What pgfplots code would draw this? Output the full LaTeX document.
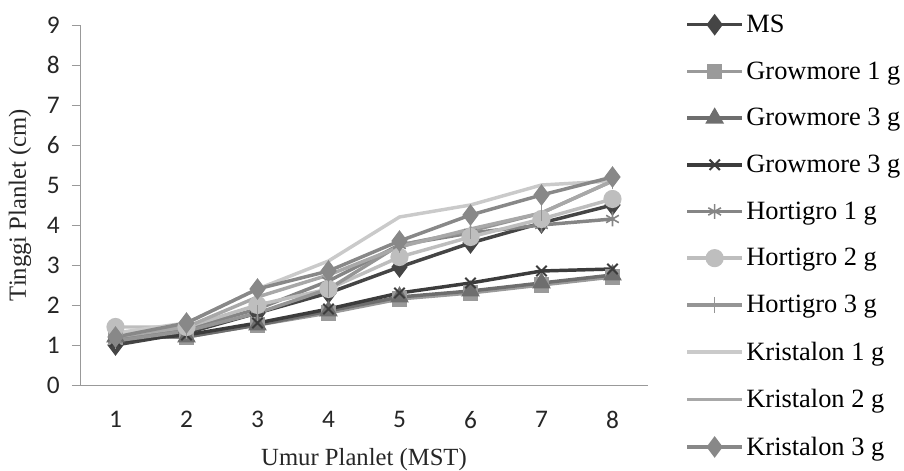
\documentclass[border=0pt]{standalone}
\usepackage{fontspec}
\setmainfont{Liberation Serif}
\newfontfamily\tickfont{Carlito}
\usepackage{pgfplots}
\pgfplotsset{compat=1.18}
\definecolor{cMS}{HTML}{454545}
\definecolor{cGa}{HTML}{9A9A9A}
\definecolor{cGb}{HTML}{6E6E6E}
\definecolor{cGc}{HTML}{3C3C3C}
\definecolor{cHa}{HTML}{858585}
\definecolor{cHb}{HTML}{BEBEBE}
\definecolor{cHc}{HTML}{959595}
\definecolor{cKa}{HTML}{CACACA}
\definecolor{cKb}{HTML}{A8A8A8}
\definecolor{cKc}{HTML}{888888}
\begin{document}
\begin{tikzpicture}
\begin{axis}[
  name=ax,
  scale only axis,
  width=426pt, height=270pt,
  xmin=0.5, xmax=8.5, ymin=0, ymax=9,
  xtick={1,...,8}, ytick={0,...,9},
  axis x line=bottom, axis y line=left,
  axis line style={gray!80, -},
  xtick style={draw=none},
  ytick style={draw=gray!80},
  tick align=outside,
  major tick length=6pt,
  /pgf/number format/assume math mode=true,
  ticklabel style={font=\tickfont\fontsize{19}{22}\selectfont, text=black!85},
  xticklabel style={anchor=center, yshift=-20pt},
  yticklabel style={anchor=center, xshift=-14pt},
  xlabel={Umur Planlet (MST)}, ylabel={Tinggi Planlet (cm)},
  label style={font=\fontsize{18.5}{21}\selectfont, text=black!85},
  xlabel style={at={(axis description cs:0.5,0)}, anchor=center, yshift=-56pt},
  ylabel style={at={(axis description cs:0,0.5)}, anchor=center, yshift=45pt},
  every axis plot/.append style={line width=2.6pt, mark size=5pt, mark options={solid}},
  legend cell align=left,
  legend style={at={(1,1)}, anchor=north west, xshift=25pt, yshift=11.7pt, draw=none, fill=none,
    font=\fontsize{19.8}{22}\selectfont, row sep=16.4pt,
    legend image code/.code={\draw[#1] (0pt,0pt) -- (20.5pt,0pt) plot coordinates {(20.5pt,0pt)} -- (41pt,0pt);}},
  clip=false,
]
\addplot[cMS, mark=diamond*, mark size=6pt] coordinates {(1,1.0)(2,1.3)(3,1.8)(4,2.3)(5,2.95)(6,3.55)(7,4.05)(8,4.5)};
\addlegendentry{MS}
\addplot[cGa, mark=square*, mark size=4.5pt] coordinates {(1,1.2)(2,1.2)(3,1.5)(4,1.8)(5,2.15)(6,2.3)(7,2.5)(8,2.7)};
\addlegendentry{Growmore 1 g}
\addplot[cGb, mark=triangle*, mark size=5.5pt] coordinates {(1,1.2)(2,1.2)(3,1.5)(4,1.85)(5,2.2)(6,2.35)(7,2.55)(8,2.75)};
\addlegendentry{Growmore 3 g}
\addplot[cGc, mark=x, mark size=5.5pt, mark options={line width=1.5pt}] coordinates {(1,1.1)(2,1.25)(3,1.55)(4,1.9)(5,2.3)(6,2.55)(7,2.85)(8,2.9)};
\addlegendentry{Growmore 3 g}
\addplot[cHa, mark=asterisk, mark size=5.5pt, mark options={line width=1.2pt}] coordinates {(1,1.15)(2,1.4)(3,1.9)(4,2.6)(5,3.5)(6,3.8)(7,4.0)(8,4.15)};
\addlegendentry{Hortigro 1 g}
\addplot[cHb, mark=*, mark size=5.5pt] coordinates {(1,1.45)(2,1.45)(3,2.0)(4,2.4)(5,3.2)(6,3.7)(7,4.15)(8,4.65)};
\addlegendentry{Hortigro 2 g}
\addplot[cHc, mark=|, mark size=6pt, mark options={line width=1.2pt}] coordinates {(1,1.1)(2,1.35)(3,1.8)(4,2.4)(5,3.5)(6,3.85)(7,4.3)(8,5.1)};
\addlegendentry{Hortigro 3 g}
\addplot[cKa, no markers] coordinates {(1,1.3)(2,1.55)(3,2.4)(4,3.1)(5,4.2)(6,4.5)(7,5.0)(8,5.1)};
\addlegendentry{Kristalon 1 g}
\addplot[cKb, no markers] coordinates {(1,1.2)(2,1.45)(3,2.2)(4,2.75)(5,3.45)(6,3.9)(7,4.3)(8,5.1)};
\addlegendentry{Kristalon 2 g}
\addplot[cKc, mark=diamond*, mark size=6pt] coordinates {(1,1.2)(2,1.55)(3,2.4)(4,2.85)(5,3.6)(6,4.25)(7,4.75)(8,5.2)};
\addlegendentry{Kristalon 3 g}
\end{axis}
\pgfresetboundingbox
\path[use as bounding box] ([xshift=-60pt,yshift=-64.5pt]ax.south west) rectangle ([xshift=192pt,yshift=18.75pt]ax.north east);
\end{tikzpicture}
\end{document}
